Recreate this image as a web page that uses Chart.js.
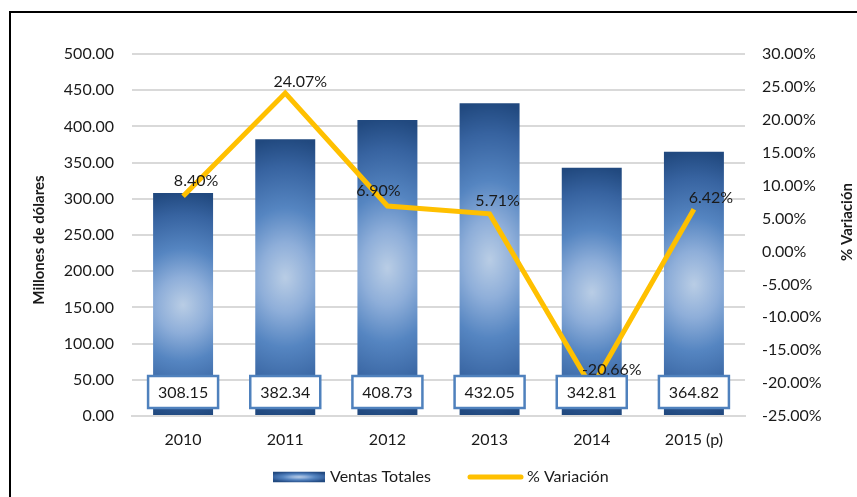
<!DOCTYPE html>
<html>
<head>
<meta charset="utf-8">
<script src="https://cdn.jsdelivr.net/npm/chart.js@4.4.1/dist/chart.umd.min.js"></script>
<style>
  html, body { margin: 0; padding: 0; background: #fff; }
</style>
</head>
<body>
<canvas id="chart" width="857" height="497"></canvas>
<script>
const years      = ["2010", "2011", "2012", "2013", "2014", "2015 (p)"];
const ventas     = [308.15, 382.34, 408.73, 432.05, 342.81, 364.82];
const variacion  = [8.40, 24.07, 6.90, 5.71, -20.66, 6.42];
const ventasAxis    = [0, 500, 50];    // min, max, step
const variacionAxis = [-25, 30, 5];

const BAR_PCT   = 0.587;
const TEXT      = "#1a1a1a";
const GRID      = "#d9d9d9";
const YELLOW    = "#FFC000";
const BOX_BLUE  = "#4F81BD";

Chart.defaults.font.family = "Lato";
Chart.defaults.font.size   = 16;
Chart.defaults.color       = TEXT;

// excel-like "path" gradient: light centre, dark top and bottom
function gradientCanvas(w, h, spread) {
  var c = document.createElement("canvas");
  c.width  = Math.max(1, Math.ceil(w));
  c.height = Math.max(1, Math.ceil(h));
  var g = c.getContext("2d");
  g.translate(c.width / 2, c.height / 2);
  g.scale(c.width / 2 / spread, c.height / 2);
  var rg = g.createRadialGradient(0, 0, 0, 0, 0, 1);
  rg.addColorStop(0,    "#b9cde5");
  rg.addColorStop(0.25, "#8eaed9");
  rg.addColorStop(0.5,  "#5585c1");
  rg.addColorStop(0.8,  "#3763a0");
  rg.addColorStop(1,    "#21497f");
  g.fillStyle = rg;
  g.fillRect(-4, -4, 8, 8);
  return c;
}

function barFill(context) {
  var chart = context.chart;
  if (!chart.chartArea || context.type !== "data") return BOX_BLUE;
  var xs = chart.scales.x, ys = chart.scales.y;
  var w    = xs.width / years.length * BAR_PCT;
  var cx   = xs.getPixelForValue(context.dataIndex);
  var top  = ys.getPixelForValue(context.raw);
  var base = ys.getPixelForValue(0);
  var pat  = chart.ctx.createPattern(gradientCanvas(w + 2, base - top + 2, 0.3), "no-repeat");
  pat.setTransform(new DOMMatrix([1, 0, 0, 1, cx - w / 2 - 1, top - 1]));
  return pat;
}

// frame of the excel chart object
const framePlugin = {
  id: "frame",
  beforeDraw(chart) {
    var ctx = chart.ctx;
    ctx.save();
    ctx.fillStyle = "#fff";
    ctx.fillRect(0, 0, chart.width, chart.height);
    ctx.strokeStyle = "#000";
    ctx.lineWidth = 2;
    ctx.strokeRect(10, 12, chart.width + 20, chart.height + 20);
    ctx.restore();
  }
};

// value labels, axis titles, legend
const labelOffsets = [[13, -15], [15, -11], [-9, -15], [8, -13], [20, -18], [17, -11]];

const labelsPlugin = {
  id: "labels",
  afterDatasetsDraw(chart) {
    var ctx = chart.ctx;
    var base = chart.scales.y.getPixelForValue(0);
    ctx.save();
    ctx.font = "16px Lato";
    ctx.textAlign = "center";
    ctx.textBaseline = "middle";

    chart.getDatasetMeta(1).data.forEach(function (p, i) {
      ctx.fillStyle = TEXT;
      ctx.fillText(variacion[i].toFixed(2) + "%", p.x + labelOffsets[i][0], p.y + labelOffsets[i][1]);
    });

    chart.getDatasetMeta(0).data.forEach(function (b, i) {
      var cy = base - 24;
      ctx.fillStyle = "#fff";
      ctx.fillRect(b.x - 35, cy - 16, 70, 32);
      ctx.strokeStyle = BOX_BLUE;
      ctx.lineWidth = 2.5;
      ctx.strokeRect(b.x - 35, cy - 16, 70, 32);
      ctx.fillStyle = TEXT;
      ctx.fillText(ventas[i].toFixed(2), b.x, cy + 1);
    });
    ctx.restore();
  },
  afterDraw(chart) {
    var ctx = chart.ctx;
    ctx.save();
    ctx.fillStyle = TEXT;
    ctx.textBaseline = "middle";
    ctx.textAlign = "center";
    ctx.font = "bold 15px Lato";

    ctx.translate(39, 240);
    ctx.rotate(-Math.PI / 2);
    ctx.fillText("Millones de dólares", 0, 0);
    ctx.setTransform(1, 0, 0, 1, 0, 0);

    ctx.translate(847, 222);
    ctx.rotate(-Math.PI / 2);
    ctx.fillText("% Variación", 0, 0);
    ctx.setTransform(1, 0, 0, 1, 0, 0);

    // legend
    var ly = 477;
    var swatch = ctx.createPattern(gradientCanvas(52, 11, 0.8), "no-repeat");
    swatch.setTransform(new DOMMatrix([1, 0, 0, 1, 273, ly - 5.5]));
    ctx.fillStyle = swatch;
    ctx.fillRect(273, ly - 5.5, 52, 11);

    ctx.font = "16px Lato";
    ctx.textAlign = "left";
    ctx.fillStyle = TEXT;
    ctx.fillText(chart.data.datasets[0].label, 330, ly);

    ctx.strokeStyle = YELLOW;
    ctx.lineWidth = 5;
    ctx.lineCap = "round";
    ctx.beginPath();
    ctx.moveTo(470, ly);
    ctx.lineTo(521, ly);
    ctx.stroke();
    ctx.fillText(chart.data.datasets[1].label, 527, ly);
    ctx.restore();
  }
};

new Chart(document.getElementById("chart"), {
  type: "bar",
  data: {
    labels: years,
    datasets: [{
      type: "bar",
      label: "Ventas Totales",
      data: ventas,
      yAxisID: "y",
      backgroundColor: barFill,
      barPercentage: BAR_PCT,
      categoryPercentage: 1,
      order: 1
    }, {
      type: "line",
      label: "% Variación",
      data: variacion,
      yAxisID: "y1",
      borderColor: YELLOW,
      borderWidth: 5,
      pointRadius: 0,
      tension: 0,
      borderJoinStyle: "miter",
      order: 0
    }]
  },
  options: {
    responsive: false,
    animation: false,
    layout: { padding: { top: 54, left: 0, right: 0, bottom: 40 } },
    plugins: {
      legend: { display: false },
      tooltip: { enabled: false }
    },
    scales: {
      x: {
        grid: { display: false, drawTicks: false },
        border: { color: GRID, width: 2 },
        ticks: { padding: 14, color: TEXT, font: { size: 16 } },
        afterFit: function (s) { s.height = 41; }
      },
      y: {
        position: "left",
        min: ventasAxis[0],
        max: ventasAxis[1],
        grid: { color: GRID, lineWidth: 2, drawTicks: false },
        border: { display: false },
        ticks: {
          stepSize: ventasAxis[2],
          padding: 18,
          color: TEXT,
          callback: function (v) { return v.toFixed(2); }
        },
        afterFit: function (s) { s.width = 132; }
      },
      y1: {
        position: "right",
        min: variacionAxis[0],
        max: variacionAxis[1],
        grid: { display: false, drawTicks: false },
        border: { display: false },
        ticks: {
          stepSize: variacionAxis[2],
          padding: 17,
          color: TEXT,
          callback: function (v) { return v.toFixed(2) + "%"; }
        },
        afterFit: function (s) { s.width = 112; }
      }
    }
  },
  plugins: [framePlugin, labelsPlugin]
});
</script>
</body>
</html>
